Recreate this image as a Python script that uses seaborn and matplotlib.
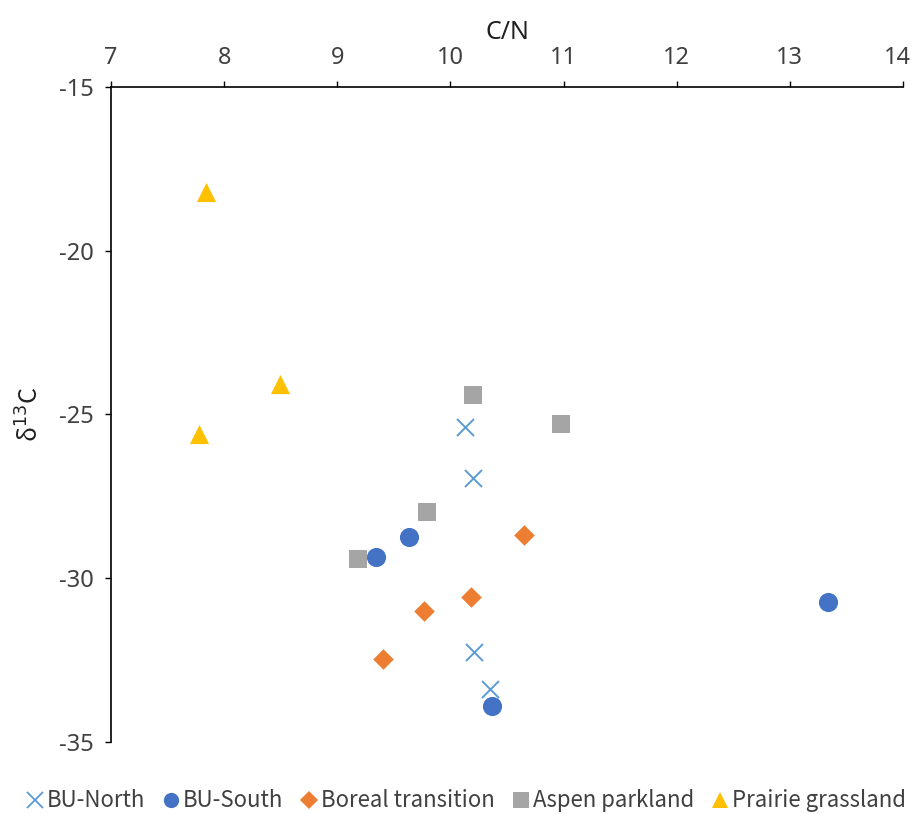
import matplotlib
matplotlib.use("Agg")
import matplotlib.pyplot as plt
import matplotlib.transforms as mtransforms
import seaborn as sns
import pandas as pd
from matplotlib.lines import Line2D

# ---- data ----
groups = ["BU-North", "BU-South", "Boreal transition", "Aspen parkland", "Prairie grassland"]
bu_north_cn = [10.13, 10.20, 10.21, 10.35]
bu_north_d13c = [-25.38, -26.94, -32.25, -33.38]
bu_south_cn = [9.63, 9.34, 10.37, 13.34]
bu_south_d13c = [-28.74, -29.35, -33.90, -30.73]
boreal_cn = [10.65, 10.18, 9.77, 9.40]
boreal_d13c = [-28.68, -30.57, -31.00, -32.47]
aspen_cn = [10.20, 10.98, 9.79, 9.18]
aspen_d13c = [-24.40, -25.29, -27.98, -29.41]
prairie_cn = [7.84, 8.49, 7.78]
prairie_d13c = [-18.21, -24.07, -25.60]
x_ticks = [7, 8, 9, 10, 11, 12, 13, 14]
y_ticks = [-35, -30, -25, -20, -15]

colors = ["#5B9BD5", "#4472C4", "#ED7D31", "#A5A5A5", "#FFC000"]
markers = ["x", "o", "D", "s", "^"]
sizes = [150, 190, 110, 170, 190]

xs = [bu_north_cn, bu_south_cn, boreal_cn, aspen_cn, prairie_cn]
ys = [bu_north_d13c, bu_south_d13c, boreal_d13c, aspen_d13c, prairie_d13c]
rows = []
for g, xv, yv in zip(groups, xs, ys):
    for a, b in zip(xv, yv):
        rows.append({"group": g, "cn": a, "d13c": b})
df = pd.DataFrame(rows)

sns.set_theme(style="white")
plt.rcParams["font.family"] = ["Noto Sans CJK SC", "DejaVu Sans"]
plt.rcParams["axes.unicode_minus"] = False

fig = plt.figure(figsize=(9.12, 8.14), dpi=100)
ax = fig.add_axes([0.1217, 0.0885, 0.8684, 0.8046])

for g, c, m, s in zip(groups, colors, markers, sizes):
    sub = df[df.group == g]
    kw = dict(linewidth=1.4) if m == "x" else dict(linewidth=0)
    sns.scatterplot(data=sub, x="cn", y="d13c", color=c, marker=m, s=s,
                    ax=ax, legend=False, zorder=3, **kw)

ax.set_xlim(7, 14)
ax.set_ylim(-35, -15)
ax.set_xticks(x_ticks)
ax.set_yticks(y_ticks)
ax.xaxis.tick_top()
ax.xaxis.set_label_position("top")
for sp in ["right", "bottom"]:
    ax.spines[sp].set_visible(False)
for sp in ["top", "left"]:
    ax.spines[sp].set_color("#000000")
    ax.spines[sp].set_linewidth(1.2)
ax.tick_params(axis="x", direction="out", length=4.5, width=1, pad=8, colors="black",
               labelsize=17, top=True, bottom=False)
ax.tick_params(axis="y", direction="out", length=4.5, width=1, pad=8, colors="black",
               labelsize=17, left=True)
for lab in ax.get_xticklabels() + ax.get_yticklabels():
    lab.set_color("#404040")
    lab.set_fontfamily("Noto Sans")
last = ax.get_xticklabels()[-1]
last.set_transform(last.get_transform() +
                   mtransforms.ScaledTranslation(-6 / 100, 0, fig.dpi_scale_trans))

ax.set_xlabel("C/N", fontsize=18, color="#202020", labelpad=5, family="Noto Sans")
ax.set_ylabel(r"δ$^{13}$C", fontsize=18, color="#202020", labelpad=10)

handles = []
for g, c, m in zip(groups, colors, markers):
    if m == "x":
        h = Line2D([], [], linestyle="none", marker=m, color=c, markersize=11,
                   markeredgewidth=1.3)
    else:
        ms = {"o": 11, "D": 9, "s": 11, "^": 12}[m]
        h = Line2D([], [], linestyle="none", marker=m, color=c, markersize=ms,
                   markeredgewidth=0)
    handles.append(h)

leg = fig.legend(handles, groups, loc="center", bbox_to_anchor=(0.509, 0.016), ncol=5,
                 frameon=False, fontsize=16, handletextpad=0.0, columnspacing=0.6,
                 handlelength=1.1, borderaxespad=0)
for t in leg.get_texts():
    t.set_color("#404040")

fig.savefig("out.png", dpi=100)
